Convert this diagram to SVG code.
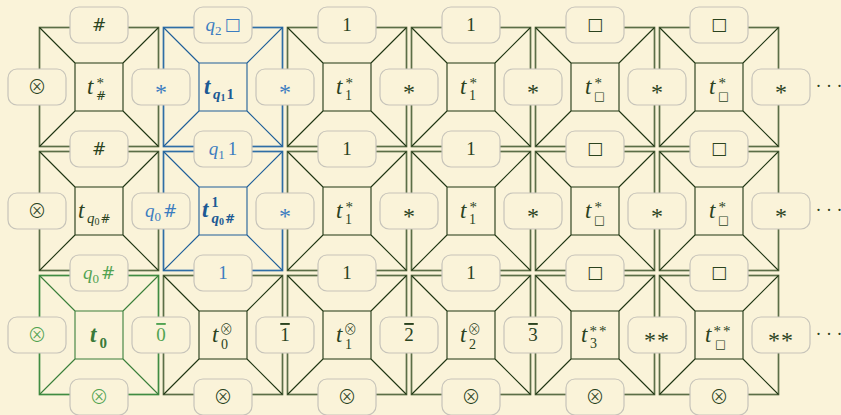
<svg xmlns="http://www.w3.org/2000/svg" xmlns:xlink="http://www.w3.org/1999/xlink" width="841" height="415" viewBox="0 0 841 415" font-size="19">
<style>
.o{fill:none;stroke:#5b6e47;stroke-width:1.7}
.i{fill:none;stroke:#1f3613;stroke-width:1.1}
.blue .o{stroke:#2f6ea6}
.blue .i{stroke:#1f5f99}
.green .o{stroke:#3f8c42}
.green .i{stroke:#3a7f3a}
.lb{fill:#faf3d9;stroke:#c7c4ba;stroke-width:1.2}
text{font-family:"Liberation Serif",serif;fill:#2b431e;text-anchor:middle}
.st{text-anchor:start}
.it{font-style:italic}
.t{font-style:italic;font-size:23px;text-anchor:start}
.sy{font-family:"DejaVu Sans",sans-serif}
.cb{fill:#3c7dc0}
.cg{fill:#52a352}
.ib{fill:#1d5a94;font-weight:bold}
.ig{fill:#3a7a39;font-weight:bold}
.ov{text-decoration:overline}
.ast{font-size:24px}
.ox{font-family:"Noto Sans CJK JP","DejaVu Sans",sans-serif;font-weight:300;font-size:19px}
.sq{font-family:"DejaVu Sans",sans-serif;font-size:17px}
.ssq{font-family:"DejaVu Sans",sans-serif;font-size:11.5px;text-anchor:start}
.sox{font-family:"Noto Sans CJK JP","DejaVu Sans",sans-serif;font-weight:300;font-size:13.5px;text-anchor:start}
.hs{font-family:"DejaVu Sans",sans-serif;font-size:17px}
</style>
<defs>
<rect id="O" width="119" height="119"/>
<path id="I" d="M0 0L35.5 35.5M119 0L83.5 35.5M0 119L35.5 83.5M119 119L83.5 83.5M35.5 35.5H83.5V83.5H35.5Z"/>
<rect id="B" width="58" height="36" rx="9"/>
</defs>
<rect width="841" height="415" fill="#faf3d9"/>

<g id="tiles">
<g id="tile-0-0"><use xlink:href="#O" x="39.5" y="27.5" class="o"/><use xlink:href="#I" x="39.5" y="27.5" class="i"/>
<text class="t" x="87" y="94">t</text><text class="st sy" x="96" y="100" font-size="12">#</text><text class="st" x="96.5" y="88" font-size="15">*</text></g>
<g id="tile-0-1" class="blue"><use xlink:href="#O" x="163.5" y="27.5" class="o"/><use xlink:href="#I" x="163.5" y="27.5" class="i"/>
<text class="t ib" x="204" y="94">t</text><text class="st ib" x="213" y="99" font-size="15"><tspan class="it">q</tspan><tspan font-size="10" dy="2">1</tspan><tspan dx="1" dy="-2">1</tspan></text></g>
<g id="tile-0-2"><use xlink:href="#O" x="287.5" y="27.5" class="o"/><use xlink:href="#I" x="287.5" y="27.5" class="i"/>
<text class="t" x="336" y="94">t</text><text class="st" x="345" y="100" font-size="14">1</text><text class="st" x="345.5" y="88" font-size="15">*</text></g>
<g id="tile-0-3"><use xlink:href="#O" x="411.5" y="27.5" class="o"/><use xlink:href="#I" x="411.5" y="27.5" class="i"/>
<text class="t" x="460" y="94">t</text><text class="st" x="469" y="100" font-size="14">1</text><text class="st" x="469.5" y="88" font-size="15">*</text></g>
<g id="tile-0-4"><use xlink:href="#O" x="535.5" y="27.5" class="o"/><use xlink:href="#I" x="535.5" y="27.5" class="i"/>
<text class="t" x="585" y="94">t</text><text class="ssq" x="594" y="100">□</text><text class="st" x="594.5" y="88" font-size="15">*</text></g>
<g id="tile-0-5"><use xlink:href="#O" x="659.5" y="27.5" class="o"/><use xlink:href="#I" x="659.5" y="27.5" class="i"/>
<text class="t" x="709" y="94">t</text><text class="ssq" x="718" y="100">□</text><text class="st" x="718.5" y="88" font-size="15">*</text></g>

<g id="tile-1-0"><use xlink:href="#O" x="39.5" y="151.5" class="o"/><use xlink:href="#I" x="39.5" y="151.5" class="i"/>
<text class="t" x="78" y="218">t</text><text class="st" x="87" y="223" font-size="15"><tspan class="it">q</tspan><tspan font-size="10" dy="2">0</tspan><tspan class="sy" font-size="12" dx="1" dy="-2">#</tspan></text></g>
<g id="tile-1-1" class="blue"><use xlink:href="#O" x="163.5" y="151.5" class="o"/><use xlink:href="#I" x="163.5" y="151.5" class="i"/>
<text class="t ib" x="202" y="217">t</text><text class="st ib" x="211.5" y="207" font-size="14">1</text><text class="st ib" x="211.5" y="223" font-size="15"><tspan class="it">q</tspan><tspan font-size="10" dy="2">0</tspan><tspan class="sy" font-size="12" dx="1" dy="-2">#</tspan></text></g>
<g id="tile-1-2"><use xlink:href="#O" x="287.5" y="151.5" class="o"/><use xlink:href="#I" x="287.5" y="151.5" class="i"/>
<text class="t" x="336" y="218">t</text><text class="st" x="345" y="224" font-size="14">1</text><text class="st" x="345.5" y="212" font-size="15">*</text></g>
<g id="tile-1-3"><use xlink:href="#O" x="411.5" y="151.5" class="o"/><use xlink:href="#I" x="411.5" y="151.5" class="i"/>
<text class="t" x="460" y="218">t</text><text class="st" x="469" y="224" font-size="14">1</text><text class="st" x="469.5" y="212" font-size="15">*</text></g>
<g id="tile-1-4"><use xlink:href="#O" x="535.5" y="151.5" class="o"/><use xlink:href="#I" x="535.5" y="151.5" class="i"/>
<text class="t" x="585" y="218">t</text><text class="ssq" x="594" y="224">□</text><text class="st" x="594.5" y="212" font-size="15">*</text></g>
<g id="tile-1-5"><use xlink:href="#O" x="659.5" y="151.5" class="o"/><use xlink:href="#I" x="659.5" y="151.5" class="i"/>
<text class="t" x="709" y="218">t</text><text class="ssq" x="718" y="224">□</text><text class="st" x="718.5" y="212" font-size="15">*</text></g>

<g id="tile-2-0" class="green"><use xlink:href="#O" x="39.5" y="275.5" class="o"/><use xlink:href="#I" x="39.5" y="275.5" class="i"/>
<text class="t ig" x="90" y="342">t</text><text class="st ig" x="99.5" y="348" font-size="15">0</text></g>
<g id="tile-2-1"><use xlink:href="#O" x="163.5" y="275.5" class="o"/><use xlink:href="#I" x="163.5" y="275.5" class="i"/>
<text class="t" x="212" y="342">t</text><text class="st" x="221" y="349" font-size="14">0</text><text class="sox" x="219.5" y="334">⊗</text></g>
<g id="tile-2-2"><use xlink:href="#O" x="287.5" y="275.5" class="o"/><use xlink:href="#I" x="287.5" y="275.5" class="i"/>
<text class="t" x="336" y="342">t</text><text class="st" x="345" y="349" font-size="14">1</text><text class="sox" x="343.5" y="334">⊗</text></g>
<g id="tile-2-3"><use xlink:href="#O" x="411.5" y="275.5" class="o"/><use xlink:href="#I" x="411.5" y="275.5" class="i"/>
<text class="t" x="460" y="342">t</text><text class="st" x="469" y="349" font-size="14">2</text><text class="sox" x="467.5" y="334">⊗</text></g>
<g id="tile-2-4"><use xlink:href="#O" x="535.5" y="275.5" class="o"/><use xlink:href="#I" x="535.5" y="275.5" class="i"/>
<text class="t" x="581" y="342">t</text><text class="st" x="590" y="348" font-size="14">3</text><text class="st" x="589.5" y="336" font-size="15" letter-spacing="2">**</text></g>
<g id="tile-2-5"><use xlink:href="#O" x="659.5" y="275.5" class="o"/><use xlink:href="#I" x="659.5" y="275.5" class="i"/>
<text class="t" x="705" y="342">t</text><text class="ssq" x="715" y="348">□</text><text class="st" x="713.5" y="336" font-size="15" letter-spacing="2">**</text></g>
</g>

<g id="labels">
<g id="v-0-0"><use xlink:href="#B" x="70" y="7" class="lb"/><text x="99" y="31" class="hs">#</text></g>
<g id="v-0-1"><use xlink:href="#B" x="194" y="7" class="lb"/><text x="223" y="31" class="cb"><tspan class="it">q</tspan><tspan font-size="13" dy="4">2</tspan><tspan class="sy" font-size="17" dx="3" dy="-5">□</tspan></text></g>
<g id="v-0-2"><use xlink:href="#B" x="318" y="7" class="lb"/><text x="347" y="31">1</text></g>
<g id="v-0-3"><use xlink:href="#B" x="442" y="7" class="lb"/><text x="471" y="31">1</text></g>
<g id="v-0-4"><use xlink:href="#B" x="566" y="7" class="lb"/><text x="595" y="30" class="sq">□</text></g>
<g id="v-0-5"><use xlink:href="#B" x="690" y="7" class="lb"/><text x="719" y="30" class="sq">□</text></g>

<g id="v-1-0"><use xlink:href="#B" x="70" y="131" class="lb"/><text x="99" y="155" class="hs">#</text></g>
<g id="v-1-1"><use xlink:href="#B" x="194" y="131" class="lb"/><text x="223" y="155" class="cb"><tspan class="it">q</tspan><tspan font-size="13" dy="4">1</tspan><tspan dx="3" dy="-4">1</tspan></text></g>
<g id="v-1-2"><use xlink:href="#B" x="318" y="131" class="lb"/><text x="347" y="155">1</text></g>
<g id="v-1-3"><use xlink:href="#B" x="442" y="131" class="lb"/><text x="471" y="155">1</text></g>
<g id="v-1-4"><use xlink:href="#B" x="566" y="131" class="lb"/><text x="595" y="154" class="sq">□</text></g>
<g id="v-1-5"><use xlink:href="#B" x="690" y="131" class="lb"/><text x="719" y="154" class="sq">□</text></g>

<g id="v-2-0"><use xlink:href="#B" x="70" y="255" class="lb"/><text x="99" y="279" class="cg"><tspan class="it">q</tspan><tspan font-size="13" dy="4">0</tspan><tspan class="sy" font-size="17" dx="2" dy="-4">#</tspan></text></g>
<g id="v-2-1"><use xlink:href="#B" x="194" y="255" class="lb"/><text x="223" y="279" class="cb">1</text></g>
<g id="v-2-2"><use xlink:href="#B" x="318" y="255" class="lb"/><text x="347" y="279">1</text></g>
<g id="v-2-3"><use xlink:href="#B" x="442" y="255" class="lb"/><text x="471" y="279">1</text></g>
<g id="v-2-4"><use xlink:href="#B" x="566" y="255" class="lb"/><text x="595" y="278" class="sq">□</text></g>
<g id="v-2-5"><use xlink:href="#B" x="690" y="255" class="lb"/><text x="719" y="278" class="sq">□</text></g>

<g id="v-3-0"><use xlink:href="#B" x="70" y="379" class="lb"/><text x="99" y="403.5" class="ox cg">⊗</text></g>
<g id="v-3-1"><use xlink:href="#B" x="194" y="379" class="lb"/><text x="223" y="403.5" class="ox">⊗</text></g>
<g id="v-3-2"><use xlink:href="#B" x="318" y="379" class="lb"/><text x="347" y="403.5" class="ox">⊗</text></g>
<g id="v-3-3"><use xlink:href="#B" x="442" y="379" class="lb"/><text x="471" y="403.5" class="ox">⊗</text></g>
<g id="v-3-4"><use xlink:href="#B" x="566" y="379" class="lb"/><text x="595" y="403.5" class="ox">⊗</text></g>
<g id="v-3-5"><use xlink:href="#B" x="690" y="379" class="lb"/><text x="719" y="403.5" class="ox">⊗</text></g>

<g id="h-0-0"><use xlink:href="#B" x="8" y="69" class="lb"/><text x="37" y="93.5" class="ox">⊗</text></g>
<g id="h-0-1"><use xlink:href="#B" x="132" y="69" class="lb"/><text x="161" y="100" class="ast cb">*</text></g>
<g id="h-0-2"><use xlink:href="#B" x="256" y="69" class="lb"/><text x="285" y="100" class="ast cb">*</text></g>
<g id="h-0-3"><use xlink:href="#B" x="380" y="69" class="lb"/><text x="409" y="100" class="ast">*</text></g>
<g id="h-0-4"><use xlink:href="#B" x="504" y="69" class="lb"/><text x="533" y="100" class="ast">*</text></g>
<g id="h-0-5"><use xlink:href="#B" x="628" y="69" class="lb"/><text x="657" y="100" class="ast">*</text></g>
<g id="h-0-6"><use xlink:href="#B" x="752" y="69" class="lb"/><text x="781" y="100" class="ast">*</text></g>

<g id="h-1-0"><use xlink:href="#B" x="8" y="193" class="lb"/><text x="37" y="217.5" class="ox">⊗</text></g>
<g id="h-1-1"><use xlink:href="#B" x="132" y="193" class="lb"/><text x="161" y="217" class="cb"><tspan class="it">q</tspan><tspan font-size="13" dy="4">0</tspan><tspan class="sy" font-size="17" dx="2" dy="-4">#</tspan></text></g>
<g id="h-1-2"><use xlink:href="#B" x="256" y="193" class="lb"/><text x="285" y="224" class="ast cb">*</text></g>
<g id="h-1-3"><use xlink:href="#B" x="380" y="193" class="lb"/><text x="409" y="224" class="ast">*</text></g>
<g id="h-1-4"><use xlink:href="#B" x="504" y="193" class="lb"/><text x="533" y="224" class="ast">*</text></g>
<g id="h-1-5"><use xlink:href="#B" x="628" y="193" class="lb"/><text x="657" y="224" class="ast">*</text></g>
<g id="h-1-6"><use xlink:href="#B" x="752" y="193" class="lb"/><text x="781" y="224" class="ast">*</text></g>

<g id="h-2-0"><use xlink:href="#B" x="8" y="317" class="lb"/><text x="37" y="341.5" class="ox cg">⊗</text></g>
<g id="h-2-1"><use xlink:href="#B" x="132" y="317" class="lb"/><text x="161" y="341" class="cg ov">0</text></g>
<g id="h-2-2"><use xlink:href="#B" x="256" y="317" class="lb"/><text x="285" y="341" class="ov">1</text></g>
<g id="h-2-3"><use xlink:href="#B" x="380" y="317" class="lb"/><text x="409" y="341" class="ov">2</text></g>
<g id="h-2-4"><use xlink:href="#B" x="504" y="317" class="lb"/><text x="533" y="341" class="ov">3</text></g>
<g id="h-2-5"><use xlink:href="#B" x="628" y="317" class="lb"/><text x="657" y="348" class="ast" letter-spacing="1">**</text></g>
<g id="h-2-6"><use xlink:href="#B" x="752" y="317" class="lb"/><text x="781" y="348" class="ast" letter-spacing="1">**</text></g>
</g>

<g id="ellipses">
<text x="815.5" y="92" font-size="18" class="st">· · ·</text>
<text x="815.5" y="216" font-size="18" class="st">· · ·</text>
<text x="815.5" y="340" font-size="18" class="st">· · ·</text>
</g>
</svg>
